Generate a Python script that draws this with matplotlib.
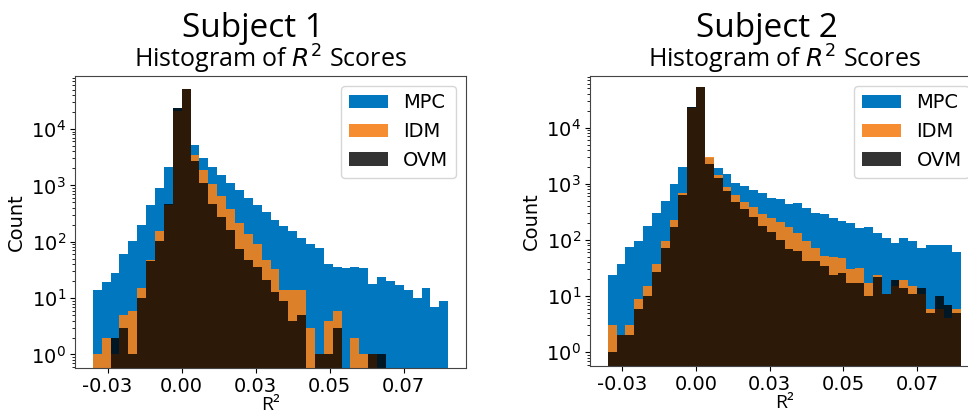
import numpy as np
import matplotlib
matplotlib.use("Agg")
import matplotlib.pyplot as plt
from matplotlib.ticker import FormatStrFormatter

# bin edges shared by both subjects (40 bins)
BIN_EDGES = np.linspace(-0.03, 0.09, 41)

# subject 1 counts per bin
S1_MPC = [14, 19, 28, 60, 103, 198, 446, 882, 2090, 24000, 50500, 5190, 3100, 2140,
          1510, 1085, 830, 590, 441, 340, 243, 190, 155, 115, 93, 76, 41, 35, 34, 35,
          34, 18, 24, 20, 17, 14, 10, 15, 7, 9]
S1_IDM = [1, 2, 1, 5, 6, 15, 47, 157, 440, 21000, 50500, 3440, 1910, 1050, 654, 375,
          217, 135, 90, 47, 33, 14, 14, 14, 3, 1, 4, 6, 0, 2, 1, 1, 0, 0, 0, 0, 0, 0, 0, 0]
S1_OVM = [0, 0, 2, 3, 1, 10, 45, 104, 465, 23800, 50500, 2700, 1110, 465, 270, 161,
          74, 47, 35, 21, 13, 9, 4, 5, 0, 1, 1, 3, 0, 0, 0, 1, 1, 0, 0, 0, 0, 0, 0, 0]

# subject 2 counts per bin
S2_MPC = [24, 38, 76, 97, 180, 299, 500, 993, 1970, 23800, 53800, 2900, 1940, 1480,
          1050, 910, 780, 680, 555, 530, 430, 460, 375, 305, 285, 250, 218, 198, 166,
          170, 131, 110, 87, 107, 97, 71, 83, 83, 80, 60]
S2_IDM = [3, 2, 3, 9, 15, 37, 97, 227, 680, 22000, 53800, 3050, 1436, 870, 630, 465,
          380, 290, 248, 211, 173, 132, 97, 71, 52, 50, 48, 31, 32, 17, 24, 11, 15, 19,
          15, 11, 6, 6, 4, 6]
S2_OVM = [1, 2, 2, 6, 10, 27, 73, 173, 630, 23500, 53800, 2260, 1260, 745, 480, 351,
          260, 180, 140, 100, 68, 64, 43, 43, 34, 24, 26, 17, 17, 10, 22, 11, 19, 14, 11,
          14, 5, 10, 7, 5]

MODELS = ["MPC", "IDM", "OVM"]
XTICKS = [-0.025, 0.0, 0.025, 0.05, 0.075]

COLORS = {"MPC": ("#0077BF", 1.0), "IDM": ("#F6821A", 0.9), "OVM": ("black", 0.8)}

W, H = 968, 415
fig = plt.figure(figsize=(W / 100, H / 100), dpi=100)


def px_axes(x0, y0, x1, y1):
    return fig.add_axes([x0 / W, 1 - y1 / H, (x1 - x0) / W, (y1 - y0) / H])


def panel(ax, counts, ylim):
    centers = (BIN_EDGES[:-1] + BIN_EDGES[1:]) / 2
    for name, c in zip(MODELS, counts):
        col, a = COLORS[name]
        ax.hist(centers, bins=BIN_EDGES, weights=c, histtype="stepfilled",
                color=col, alpha=a, label=name, log=True, linewidth=0)
    ax.set_xlim(-0.036, 0.096)
    ax.set_ylim(*ylim)
    ax.set_xticks(XTICKS)
    ax.xaxis.set_major_formatter(FormatStrFormatter("%.2f"))
    ax.tick_params(labelsize=14, pad=3)
    ax.set_xlabel("R²", fontsize=14, family="Open Sans", labelpad=0)
    ax.set_ylabel("Count", fontsize=14)
    ax.set_title("Histogram of $R^2$ Scores", fontsize=18, family="Open Sans", pad=4)
    ax.legend(loc="upper right", fontsize=14)
    for s in ax.spines.values():
        s.set_color("#444444")


ax1 = px_axes(75, 76, 466, 368.3)
panel(ax1, [S1_MPC, S1_IDM, S1_OVM], (10 ** -0.245, 10 ** 4.94))

ax2 = px_axes(590, 76, 979, 365.7)
panel(ax2, [S2_MPC, S2_IDM, S2_OVM], (10 ** -0.239, 10 ** 4.92))

fig.text(253 / W, 1 - 36.7 / H, "Subject 1", ha="center", va="baseline",
         fontsize=24, family="Open Sans")
fig.text(767 / W, 1 - 36.7 / H, "Subject 2", ha="center", va="baseline",
         fontsize=24, family="Open Sans")

fig.savefig("out.png", dpi=100)
